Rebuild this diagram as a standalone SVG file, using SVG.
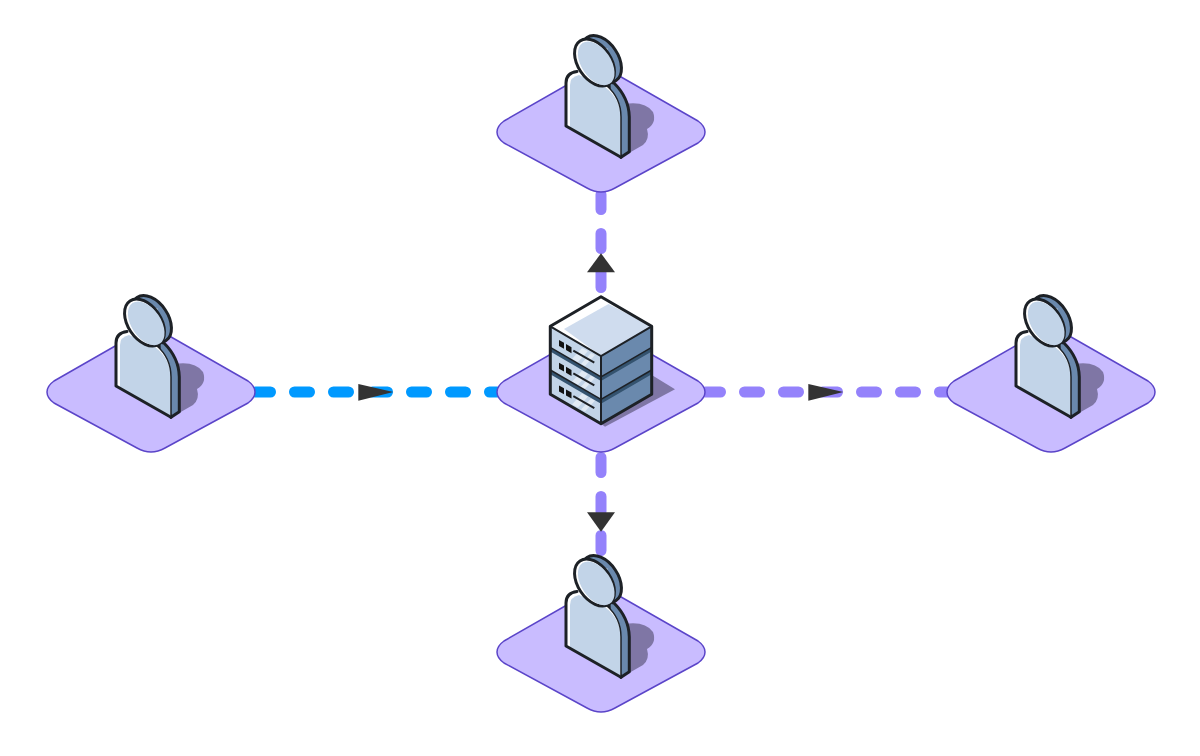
<svg xmlns="http://www.w3.org/2000/svg" width="1200" height="756" viewBox="0 0 1200 756">
<style>
.plate{fill:#c9bcff;stroke:#5b45c9;stroke-width:1.5}
.dash{fill:none;stroke-width:11;stroke-linecap:round;stroke-dasharray:15 24}
.purple{stroke:#9482fb}
.blue{stroke:#0099ff}
.arrow{fill:#333}
.shadow{fill:#7f76a5}
.ink{stroke:#1d2126;stroke-width:3;stroke-linejoin:round;stroke-linecap:round}
.thin{fill:none;stroke:#1d2126;stroke-width:1.5}
.front{fill:#c2d4e8}
.side{fill:#6a89ad}
.top{fill:#cfdcee}
.white{fill:#fff}
</style>
<defs>
<path id="plate" class="plate" d="M-97,-11 L-14,-58.5 Q0,-65 14,-58.5 L97,-11 Q104,-6 104,0 Q104,6 97,11 L14,56 Q0,64 -14,56 L-97,11 Q-104,6 -104,0 Q-104,-6 -97,-11 Z"/>
<g id="person">
<path class="shadow" d="M24,-28 Q44,-31 52,-20 Q56,-9 46,-3 Q49,7 42,13 L28,21 L20,25 Z"/>
<path class="side ink" d="M8,-50 L13,-49 Q28,-34 28.3,-15 L28.3,19.7 L20,25.3 L10,0 Z"/>
<path class="white" d="M-35,-6 L-35,-49 Q-35,-59 -24,-60.5 L5.5,-46.5 Q20,-34 20,-15 L20,25.3 Z"/>
<path class="front" d="M-31,-3.8 L-31,-47 Q-31,-55 -22,-57 L4,-45 Q19.5,-33 19.5,-15 L19.5,23.4 Z"/>
<path class="thin" d="M5.5,-46.5 Q20,-34 20,-15 L20,25.3"/>
<path class="ink" fill="none" d="M20,25.3 L-35,-6 L-35,-49 Q-35,-59 -24,-60.5"/>
<ellipse class="side ink" cx="0.5" cy="-73" rx="16.5" ry="26" transform="rotate(-34 0.5 -73)"/>
<path fill="#e8f4fd" d="M-20,-87 Q-9,-92 7,-83 L2,-79 Q-6,-86 -17,-82 Z"/>
<path fill="#9fb7d2" d="M-2,-88 L3,-85 L-2,-81 L-6,-83 Z"/>
<ellipse class="white ink" cx="-6.5" cy="-69.5" rx="16.5" ry="26" transform="rotate(-34 -6.5 -69.5)"/>
<ellipse class="front" cx="-4.8" cy="-68.7" rx="14.7" ry="24.5" transform="rotate(-34 -4.8 -68.7)"/>
</g>
<g id="unit">
<path class="front" d="M-50.7,-65.7 L0,-36 L0,-13.3 L-50.7,-43 Z"/>
<path class="side" d="M50.7,-65.7 L0,-36 L0,-13.3 L50.7,-43 Z"/>
<path fill="#fff" opacity="0.5" d="M-19,-44 L-13,-41 L-23,-30 L-29,-33 Z M-10,-39 L-6,-37 L-16,-26 L-20,-28 Z"/>
<polygon points="-42,-52 -37,-49.2 -37,-43.2 -42,-46" fill="#111"/>
<polygon points="-35,-48 -29.5,-44.8 -29.5,-38.8 -35,-42" fill="#111"/>
<path d="M-27.7,-41.3 L-6.7,-29.3" stroke="#1d2126" stroke-width="2" fill="none"/>
</g>
</defs>

<g id="connectors">
<path class="dash blue" d="M255.5,392 H497"/>
<path class="dash purple" d="M705.5,392 H947"/>
<path class="dash purple" d="M601,194.5 V290"/>
<path class="dash purple" d="M601,457.5 V552"/>
<polygon class="arrow" points="358.3,384 393.3,392 358.3,400.7"/>
<polygon class="arrow" points="808.3,384 843.3,392 808.3,400.7"/>
<polygon class="arrow" points="601,253.3 615,272.3 587,272.3"/>
<polygon class="arrow" points="601,531.7 615,512.3 587,512.3"/>
</g>

<g id="user-top" transform="translate(601,132)"><use href="#plate"/><use href="#person"/></g>
<g id="user-left" transform="translate(151,392)"><use href="#plate"/><use href="#person"/></g>
<g id="user-right" transform="translate(1051,392)"><use href="#plate"/><use href="#person"/></g>
<g id="user-bottom" transform="translate(601,652)"><use href="#plate"/><use href="#person"/></g>

<g id="server" transform="translate(601,392)">
<use href="#plate"/>
<path class="shadow" d="M50.7,-17 L74,-2.7 L4,34.7 L0,31.7 Z"/>
<use href="#unit" y="45.4"/>
<use href="#unit" y="22.7"/>
<use href="#unit"/>
<path fill="none" stroke="#34536f" stroke-width="3.5" d="M-50.7,-19.8 L0,9.7 L50.7,-19.8 M-50.7,-42.5 L0,-13 L50.7,-42.5"/>
<path fill="none" stroke="#1d2126" stroke-width="1.5" d="M-50.7,-22 L0,7.5 L50.7,-22 M-50.7,-44.7 L0,-15.2 L50.7,-44.7"/>
<path class="white" d="M0,-95.3 L50.7,-65.7 L0,-36 L-50.7,-65.7 Z"/>
<path class="top" d="M7.5,-88 L50.7,-65.7 L0,-36 L-37,-63 Z"/>
<path fill="none" class="ink" d="M0,-95.3 L50.7,-65.7 L50.7,2.3 L0,31.7 L-50.7,2.3 L-50.7,-65.7 Z"/>
<path fill="none" stroke="#1d2126" stroke-width="2" d="M-50.7,-65.7 L0,-36 L50.7,-65.7 M0,-36 V31.7"/>
</g>
</svg>
